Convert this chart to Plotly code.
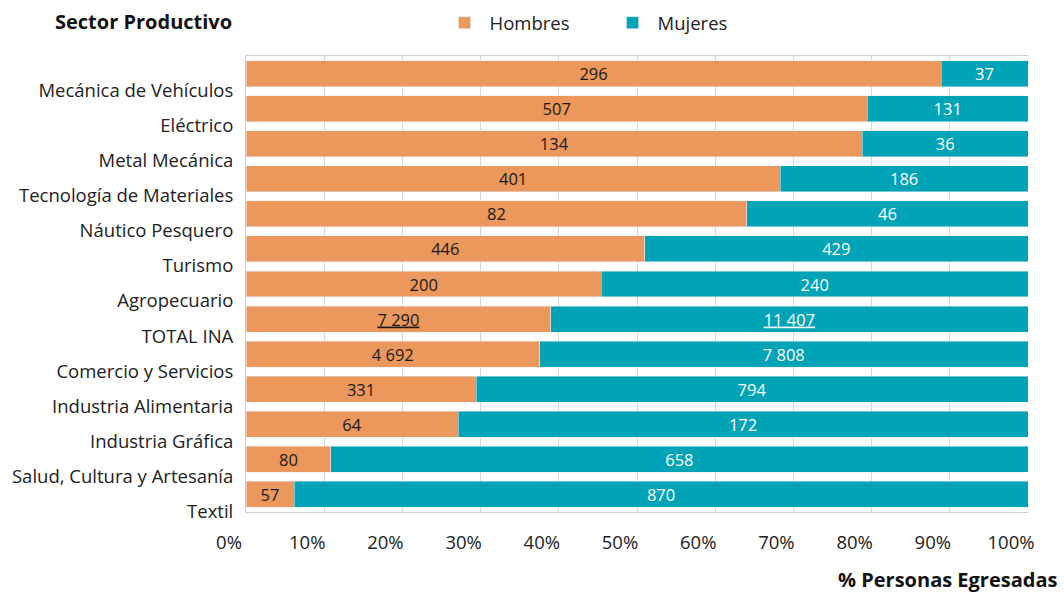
import plotly.graph_objects as go

# Sector productivo, de arriba hacia abajo
sectores = ["Mecánica de Vehículos", "Eléctrico", "Metal Mecánica", "Tecnología de Materiales",
            "Náutico Pesquero", "Turismo", "Agropecuario", "TOTAL INA", "Comercio y Servicios",
            "Industria Alimentaria", "Industria Gráfica", "Salud, Cultura y Artesanía", "Textil"]
hombres = [296, 507, 134, 401, 82, 446, 200, 7290, 4692, 331, 64, 80, 57]
mujeres = [37, 131, 36, 186, 46, 429, 240, 11407, 7808, 794, 172, 658, 870]
ticks = [0, 10, 20, 30, 40, 50, 60, 70, 80, 90, 100]

NARANJA = "#EC975B"
TURQUESA = "#00A4B6"
FONT = "Open Sans"


def etiqueta(v, sector):
    s = f"{v:,}".replace(",", " ")
    if sector == "TOTAL INA":
        s = f"<u>{s}</u>"
    return s


fig = go.Figure()
fig.add_trace(go.Bar(y=sectores, x=hombres, name="Hombres", orientation="h",
                     marker_color=NARANJA,
                     text=[etiqueta(v, s) for v, s in zip(hombres, sectores)],
                     textposition="inside", insidetextanchor="middle", textangle=0,
                     constraintext="none",
                     textfont=dict(color="#1a1a1a", size=16.5, family=FONT)))
fig.add_trace(go.Bar(y=sectores, x=mujeres, name="Mujeres", orientation="h",
                     marker_color=TURQUESA,
                     text=[etiqueta(v, s) for v, s in zip(mujeres, sectores)],
                     textposition="inside", insidetextanchor="middle", textangle=0,
                     constraintext="none",
                     textfont=dict(color="white", size=16.5, family=FONT)))

fig.update_layout(
    barmode="stack", barnorm="percent", bargap=0.26,
    width=1064, height=593,
    margin=dict(l=244, r=36, t=56, b=81),
    paper_bgcolor="white", plot_bgcolor="white",
    font=dict(family=FONT, size=18.5, color="#222"),
    legend=dict(orientation="h", xref="container", x=0.571, xanchor="center",
                yref="container", y=0.961, yanchor="middle",
                font=dict(size=18.5), itemwidth=40, entrywidth=113, traceorder="normal"),
    annotations=[
        dict(text="<b>Sector Productivo</b>", xref="paper", yref="paper",
             x=-0.0153, y=1.0746, xanchor="right", yanchor="middle",
             showarrow=False, font=dict(size=20, color="#111")),
        dict(text="<b>% Personas Egresadas</b>", xref="paper", yref="paper",
             x=1.0408, y=-0.149, xanchor="right", yanchor="middle",
             showarrow=False, font=dict(size=20, color="#111")),
    ],
)
fig.update_xaxes(range=[0, 100], tickvals=ticks, ticktext=[f"{t}%" for t in ticks],
                 showgrid=True, gridcolor="#d6d6d6", gridwidth=1,
                 showline=True, linecolor="#cfcfcf", mirror=True,
                 ticklabelshift=-17, ticklabelstandoff=14, zeroline=False)
fig.update_yaxes(autorange="reversed", showline=True, linecolor="#cfcfcf",
                 ticklabelshift=-17, ticklabelstandoff=8)

# quitar el margen del <body> para que la figura ocupe toda la ventana
fig.write_html("out.html", config={"displayModeBar": False},
               post_script="document.body.style.margin='0';")
